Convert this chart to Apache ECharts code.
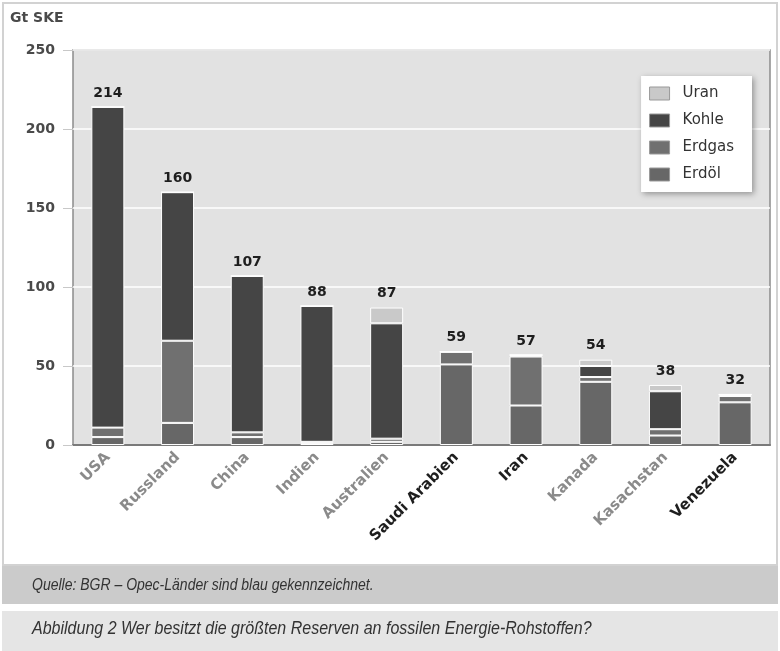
<!DOCTYPE html>
<html>
<head>
<meta charset="utf-8">
<script src="https://cdn.jsdelivr.net/npm/echarts@6/dist/echarts.min.js"></script>
<style>
  html, body { margin: 0; padding: 0; background: #fff; }
  #chart { width: 780px; height: 651px; }
</style>
</head>
<body>
<div id="chart"></div>
<script>
// Länder (OPEC-Länder werden dunkel hervorgehoben)
var countries = ['USA', 'Russland', 'China', 'Indien', 'Australien', 'Saudi Arabien', 'Iran', 'Kanada', 'Kasachstan', 'Venezuela']
var opec = ['Saudi Arabien', 'Iran', 'Venezuela']

// Reserven in Gt SKE, von unten nach oben gestapelt
var erdoel = [5, 14, 5, 1, 2, 51, 25, 40, 6, 27]
var erdgas = [6, 52, 3, 1, 2, 8, 31, 3, 4, 4]
var kohle = [203, 94, 99, 86, 73, 0, 1, 7, 24, 1]
var uran = [0, 0, 0, 0, 10, 0, 0, 4, 4, 0]
var totals = [214, 160, 107, 88, 87, 59, 57, 54, 38, 32]

var yTicks = { min: 0, max: 250, interval: 50 }

var chart = echarts.init(document.getElementById('chart'))

var font = 'DejaVu Sans'

function part(name, data, color) {
  return {
    name: name,
    type: 'bar',
    stack: 'gesamt',
    barWidth: 33,
    data: data,
    itemStyle: {
      color: color,
      borderColor: '#ffffff',
      borderWidth: 1
    }
  }
}

chart.setOption({
  animation: false,
  grid: {
    left: 73,
    right: 10,
    top: 50,
    bottom: 206,
    show: true,
    backgroundColor: '#e2e2e2',
    borderColor: '#8c8c8c',
    borderWidth: 1.5
  },
  legend: {
    data: ['Uran', 'Kohle', 'Erdgas', 'Erdöl'],
    orient: 'vertical',
    right: 28,
    top: 76,
    padding: [10, 18, 10, 8],
    itemGap: 12,
    itemWidth: 20,
    itemHeight: 13,
    icon: 'rect',
    backgroundColor: '#ffffff',
    shadowColor: 'rgba(0,0,0,0.35)',
    shadowBlur: 6,
    shadowOffsetX: 2,
    shadowOffsetY: 2,
    itemStyle: { borderColor: '#999', borderWidth: 1 },
    textStyle: { fontFamily: font, fontSize: 15, color: '#333', padding: [0, 0, 0, 8] }
  },
  xAxis: {
    type: 'category',
    data: countries.map(function (c) {
      return {
        value: c,
        textStyle: { color: opec.indexOf(c) >= 0 ? '#1e1e1e' : '#8a8a8a' }
      }
    }),
    axisLine: { lineStyle: { color: '#7a7a7a', width: 2 } },
    axisTick: { show: false },
    axisLabel: {
      rotate: 45,
      margin: 10,
      interval: 0,
      fontFamily: font,
      fontSize: 15,
      fontWeight: 'bold'
    }
  },
  yAxis: {
    type: 'value',
    min: yTicks.min,
    max: yTicks.max,
    interval: yTicks.interval,
    axisLine: { show: false },
    axisTick: { show: true, length: 10, lineStyle: { color: '#c8c8c8' } },
    splitLine: { lineStyle: { color: '#ffffff', width: 1.5 } },
    axisLabel: {
      margin: 18,
      fontFamily: font,
      fontSize: 14,
      fontWeight: 'bold',
      color: '#4a4a4a'
    }
  },
  series: [
    part('Erdöl', erdoel, '#676767'),
    part('Erdgas', erdgas, '#707070'),
    part('Kohle', kohle, '#454545'),
    part('Uran', uran, '#c9c9c9'),
    {
      name: 'Summe',
      type: 'bar',
      stack: 'gesamt',
      barWidth: 33,
      silent: true,
      data: totals.map(function () { return 0 }),
      label: {
        show: true,
        position: 'top',
        distance: 7,
        fontFamily: font,
        fontSize: 14,
        fontWeight: 'bold',
        color: '#1e1e1e',
        formatter: function (p) { return totals[p.dataIndex] }
      }
    }
  ],
  graphic: [
    {
      type: 'rect',
      z: -10,
      shape: { x: 3, y: 3, width: 774, height: 562 },
      style: { fill: '#ffffff', stroke: '#d2d2d2', lineWidth: 2 }
    },
    {
      type: 'text',
      left: 10,
      top: 11,
      style: {
        text: 'Gt SKE',
        fontFamily: font,
        fontSize: 14,
        fontWeight: 'bold',
        fill: '#4a4a4a'
      }
    },
    {
      type: 'rect',
      z: -10,
      shape: { x: 2, y: 566, width: 776, height: 38 },
      style: { fill: '#cbcbcb' }
    },
    {
      type: 'text',
      x: 32,
      y: 586,
      scaleX: 0.875,
      style: {
        text: 'Quelle: BGR – Opec-Länder sind blau gekennzeichnet.',
        fontFamily: 'Liberation Sans',
        fontStyle: 'italic',
        fontSize: 16,
        verticalAlign: 'middle',
        fill: '#333'
      }
    },
    {
      type: 'rect',
      z: -10,
      shape: { x: 2, y: 611, width: 776, height: 40 },
      style: { fill: '#e5e5e5' }
    },
    {
      type: 'text',
      x: 32,
      y: 629,
      scaleX: 0.915,
      style: {
        text: 'Abbildung 2 Wer besitzt die größten Reserven an fossilen Energie-Rohstoffen?',
        fontFamily: 'Liberation Sans',
        fontStyle: 'italic',
        fontSize: 17.5,
        verticalAlign: 'middle',
        fill: '#333'
      }
    }
  ]
})
</script>
</body>
</html>
